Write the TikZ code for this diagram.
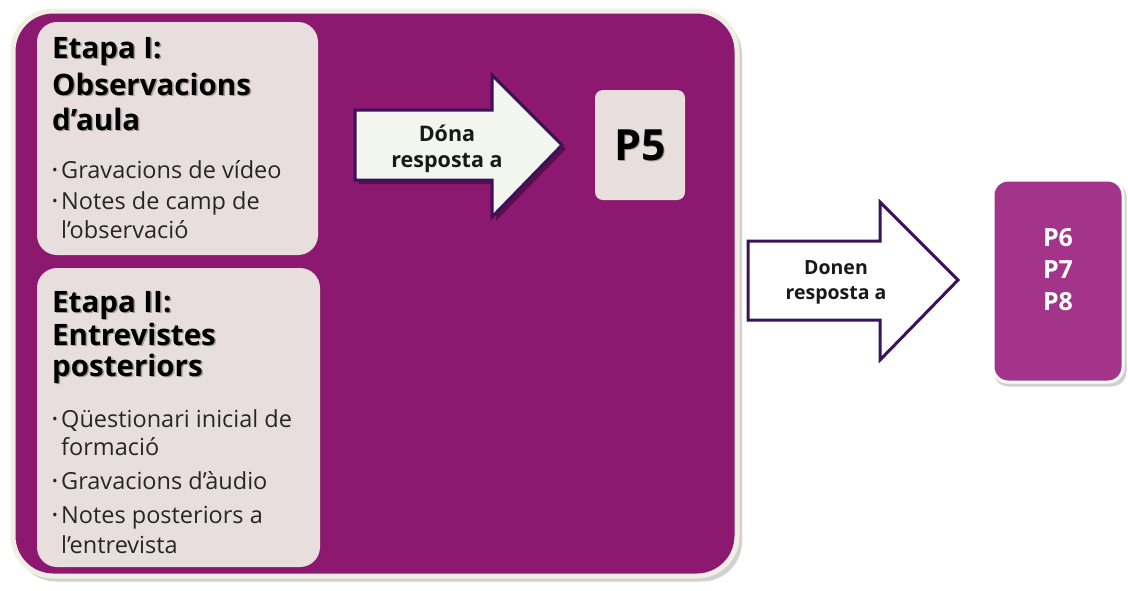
\documentclass[tikz,border=0pt]{standalone}
\usepackage{fontspec}
\setmainfont{Open Sans}
\definecolor{bigp}{RGB}{140,24,112}
\definecolor{rightp}{RGB}{163,52,138}
\definecolor{creamc}{RGB}{233,222,222}
\definecolor{framec}{RGB}{241,239,228}
\definecolor{arrowb}{RGB}{58,18,92}
\definecolor{arrowf}{RGB}{243,246,239}
\tikzset{
  mainbox/.style={draw=framec, line width=5pt, fill=bigp, rounded corners=40pt, inner sep=0pt},
  stagebox/.style={fill=creamc, rounded corners=20pt, inner sep=0pt},
  pbox/.style={fill=creamc, rounded corners=8pt, inner sep=0pt},
  rbox/.style={draw=white, line width=3pt, fill=rightp, rounded corners=15pt, inner sep=0pt},
  shadowbox/.style={fill=black, opacity=0.18, inner sep=0pt},
  arrowshape/.style={draw=arrowb, line width=3pt, fill=arrowf, line join=miter},
  head/.style={anchor=base west, inner sep=0pt, font=\fontsize{29.5}{34}\selectfont\bfseries, text=black},
  headsh/.style={anchor=base west, inner sep=0pt, font=\fontsize{29.5}{34}\selectfont\bfseries, text=black, opacity=0.3},
  item/.style={anchor=base west, inner sep=0pt, font=\fontsize{23.5}{28}\selectfont, text=black!85},
  bul/.style={anchor=base west, inner sep=0pt, font=\fontsize{15}{15}\selectfont, text=black!85},
  arrtxt/.style={align=center, inner sep=0pt, font=\fontsize{21.5}{26}\selectfont\bfseries, text=black!90},
}
\begin{document}
\begin{tikzpicture}[x=1pt,y=-1pt]
\useasboundingbox (0,0) rectangle (1128,590);
\fill[white] (0,0) rectangle (1128,590);
% main box
\node[shadowbox, rounded corners=40pt, minimum width=726pt, minimum height=567pt] (mainsh) at (379,298) {};
\node[mainbox, minimum width=724pt, minimum height=565pt] (main) at (375,293.5) {};
% stage boxes
\node[stagebox, minimum width=281pt, minimum height=233pt] (st1) at (177.5,138.5) {};
\node[stagebox, minimum width=283pt, minimum height=299pt] (st2) at (178.5,417.5) {};
% stage 1 text
\foreach \t/\y in {{Etapa I:}/58,{Observacions}/95,{d’aula}/130}{
  \node[headsh] at (53.5,\y+1.5) {\t};
  \node[head] at (52,\y) {\t};
}
\foreach \y in {178,209}{\node[bul] at (52,\y-3) {•};}
\node[item] (i1) at (61,178) {Gravacions de vídeo};
\node[item] (i2) at (61,209) {Notes de camp de};
\node[item] (i3) at (61,238) {l’observació};
% stage 2 text
\foreach \t/\y in {{Etapa II:}/312,{Entrevistes}/345,{posteriors}/376}{
  \node[headsh] at (53.5,\y+1.5) {\t};
  \node[head] at (52,\y) {\t};
}
\foreach \y in {427,489,523}{\node[bul] at (52,\y-3) {•};}
\node[item] (j1) at (61,427) {Qüestionari inicial de};
\node[item] (j2) at (61,455) {formació};
\node[item] (j3) at (61,489) {Gravacions d’àudio};
\node[item] (j4) at (61,523) {Notes posteriors a};
\node[item] (j5) at (61,553) {l’entrevista};
% arrow 1
\fill[black, opacity=0.35] (359,114) -- (496,114) -- (496,79) -- (566,149) -- (496,221) -- (496,184) -- (359,184) -- cycle;
\draw[arrowshape] (355,110) -- (492,110) -- (492,75) -- (562,145) -- (492,217) -- (492,180) -- (355,180) -- cycle;
\node[arrtxt] (a1) at (447,149) {Dóna\\resposta a};
% P5
\node[pbox, minimum width=90pt, minimum height=110pt] (p5) at (640,145) {};
\node[inner sep=0pt, font=\fontsize{43}{43}\selectfont\bfseries, opacity=0.3] at (641.5,146.5) {P5};
\node[inner sep=0pt, font=\fontsize{43}{43}\selectfont\bfseries] (p5t) at (640,145) {P5};
% arrow 2
\draw[arrowshape, fill=white] (748,241) -- (880,241) -- (880,202) -- (958,280) -- (880,360) -- (880,320) -- (748,320) -- cycle;
\node[arrtxt, font=\fontsize{19.5}{25}\selectfont\bfseries] (a2) at (836,282) {Donen\\resposta a};
% right box
\node[shadowbox, rounded corners=15pt, minimum width=133pt, minimum height=205pt] (rsh) at (1060,284) {};
\node[rbox, minimum width=130pt, minimum height=202pt] (rb) at (1058,281) {};
\node[align=center, inner sep=0pt, text=white, font=\fontsize{25}{32}\selectfont\bfseries] (pt) at (1058,270) {P6\\P7\\P8};
\end{tikzpicture}
\end{document}
